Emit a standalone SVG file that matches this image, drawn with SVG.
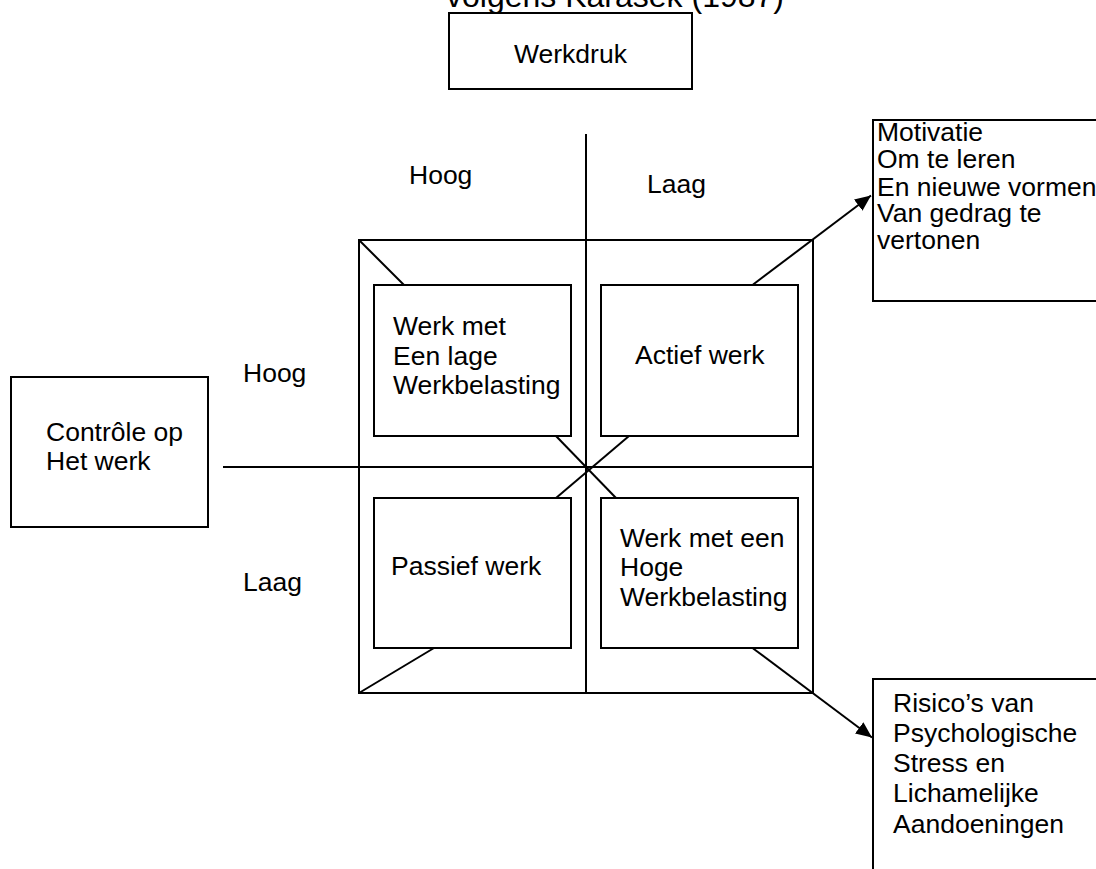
<svg xmlns="http://www.w3.org/2000/svg" width="1096" height="869" viewBox="0 0 1096 869">
<defs>
<style>
.t{font-family:"Liberation Sans",Arial,sans-serif;font-size:26.5px;fill:#000}
.ti{font-family:"Liberation Sans",Arial,sans-serif;font-size:32px;fill:#000}
.b{fill:#fff;stroke:#000;stroke-width:2}
.l{stroke:#000;stroke-width:2;fill:none}
</style>
<marker id="ah" markerUnits="userSpaceOnUse" markerWidth="18" markerHeight="14" refX="16" refY="7" orient="auto">
<path d="M0,0 L16,7 L0,14 Z" fill="#000"/>
</marker>
</defs>
<rect width="1096" height="869" fill="#fff"/>
<text class="ti" x="446" y="7">volgens Karasek (1987)</text>
<g id="connectors">
<line class="l" x1="586" y1="134" x2="586" y2="693"/>
<line class="l" x1="223" y1="467" x2="813" y2="467"/>
<rect class="l" x="359" y="240" width="454" height="453"/>
<line class="l" x1="359" y1="240" x2="404" y2="285"/>
<line class="l" x1="556" y1="436" x2="616" y2="498"/>
<line class="l" x1="629" y1="436" x2="556" y2="498"/>
<line class="l" x1="434" y1="648" x2="359" y2="693"/>
<line class="l" x1="752.5" y1="285" x2="871" y2="195.5" marker-end="url(#ah)"/>
<line class="l" x1="752.5" y1="648" x2="872" y2="737.5" marker-end="url(#ah)"/>
</g>
<g id="werkdruk">
<rect class="b" x="449" y="13" width="243" height="76"/>
<text class="t" x="514" y="63">Werkdruk</text>
</g>
<g id="controle">
<rect class="b" x="11" y="377" width="197" height="150"/>
<text class="t" x="46" y="441">Contrôle op</text>
<text class="t" x="46" y="470">Het werk</text>
</g>
<g id="labels">
<text class="t" x="409" y="184">Hoog</text>
<text class="t" x="647" y="193">Laag</text>
<text class="t" x="243" y="382">Hoog</text>
<text class="t" x="243" y="591">Laag</text>
</g>
<g id="q-lage">
<rect class="b" x="374" y="285" width="197" height="151"/>
<text class="t" x="393" y="335">Werk met</text>
<text class="t" x="393" y="365">Een lage</text>
<text class="t" x="393" y="394">Werkbelasting</text>
</g>
<g id="q-actief">
<rect class="b" x="601" y="285" width="197" height="151"/>
<text class="t" x="635" y="364">Actief werk</text>
</g>
<g id="q-passief">
<rect class="b" x="374" y="498" width="197" height="150"/>
<text class="t" x="391" y="575">Passief werk</text>
</g>
<g id="q-hoge">
<rect class="b" x="601" y="498" width="197" height="150"/>
<text class="t" x="620" y="547">Werk met een</text>
<text class="t" x="620" y="576">Hoge</text>
<text class="t" x="620" y="606">Werkbelasting</text>
</g>
<g id="motivatie">
<rect class="b" x="873" y="120" width="240" height="181"/>
<text class="t" x="877" y="141">Motivatie</text>
<text class="t" x="877" y="168">Om te leren</text>
<text class="t" x="877" y="195.5">En nieuwe vormen</text>
<text class="t" x="877" y="222">Van gedrag te</text>
<text class="t" x="877" y="249">vertonen</text>
</g>
<g id="risico">
<rect class="b" x="873" y="679" width="240" height="200"/>
<text class="t" x="893" y="712">Risico’s van</text>
<text class="t" x="893" y="742">Psychologische</text>
<text class="t" x="893" y="772">Stress en</text>
<text class="t" x="893" y="802">Lichamelijke</text>
<text class="t" x="893" y="833">Aandoeningen</text>
</g>
</svg>
